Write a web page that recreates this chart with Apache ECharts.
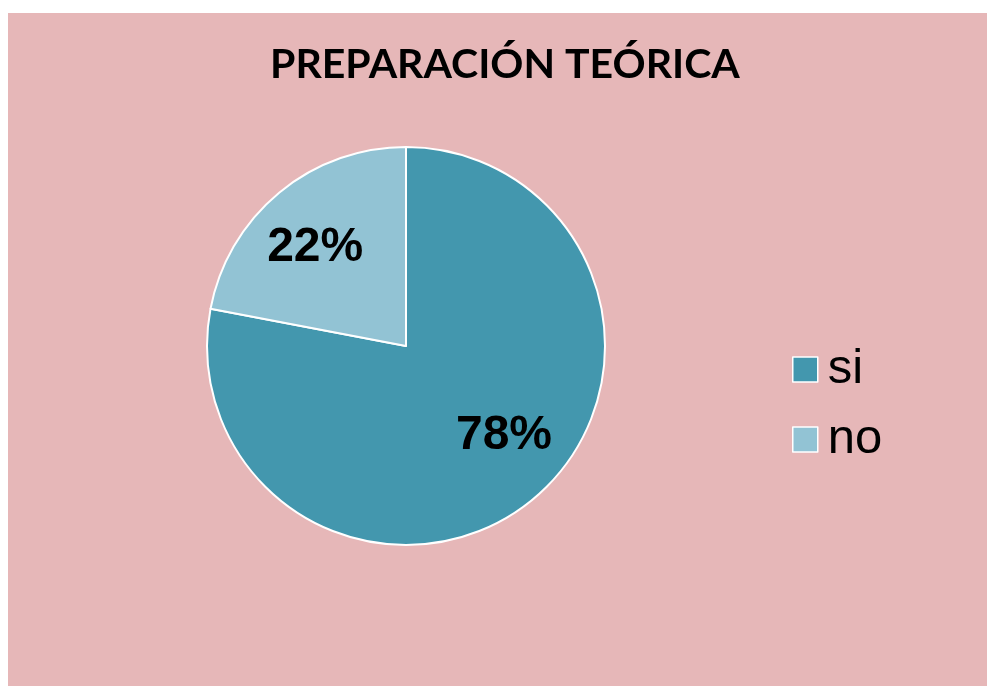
<!DOCTYPE html>
<html>
<head>
<meta charset="utf-8">
<script src="https://cdn.jsdelivr.net/npm/echarts@6/dist/echarts.min.js"></script>
<style>
  html, body { margin: 0; padding: 0; background: #fff; }
  #chart { position: absolute; left: 8px; top: 13px; width: 979px; height: 673px; }
</style>
</head>
<body>
<div id="chart"></div>
<script>
const title = 'PREPARACIÓN TEÓRICA';
const categories = ['si', 'no'];
const values = [78, 22];
const colors = ['#4397AE', '#92C3D4'];

// pie centre in chart pixels, used to push the labels outward like Excel does
const cx = 398;
const cy = 333;

const chart = echarts.init(document.getElementById('chart'));
chart.setOption({
  animation: false,
  backgroundColor: '#E6B7B8',
  title: {
    text: title,
    left: 257,
    top: 26,
    textStyle: { fontFamily: 'Lato', fontWeight: 'bold', fontSize: 41, color: '#000' },
  },
  legend: {
    orient: 'vertical',
    left: 779,
    top: 327,
    itemWidth: 25,
    itemHeight: 25,
    itemGap: 21,
    icon: 'rect',
    data: categories,
    itemStyle: { borderColor: '#fff', borderWidth: 1.5 },
    textStyle: { fontFamily: 'Liberation Sans', fontSize: 49, color: '#000', padding: [0, 0, 0, 5] },
  },
  series: [
    {
      type: 'pie',
      center: [cx, cy],
      radius: 199,
      startAngle: 90,
      clockwise: true,
      color: colors,
      itemStyle: { borderColor: '#fff', borderWidth: 2 },
      label: {
        show: true,
        position: 'inside',
        formatter: '{c}%',
        fontFamily: 'Liberation Sans',
        fontWeight: 'bold',
        fontSize: 48,
        color: '#000',
      },
      labelLine: { show: false },
      labelLayout: p => {
        const lx = p.labelRect.x + p.labelRect.width / 2;
        const ly = p.labelRect.y + p.labelRect.height / 2;
        const k = p.dataIndex === 0 ? [0.5, 0.14] : [0.39, 0.25];
        return { dx: (lx - cx) * k[0], dy: (ly - cy) * k[1] };
      },
      data: categories.map((c, i) => ({ name: c, value: values[i] })),
    },
  ],
});
</script>
</body>
</html>
